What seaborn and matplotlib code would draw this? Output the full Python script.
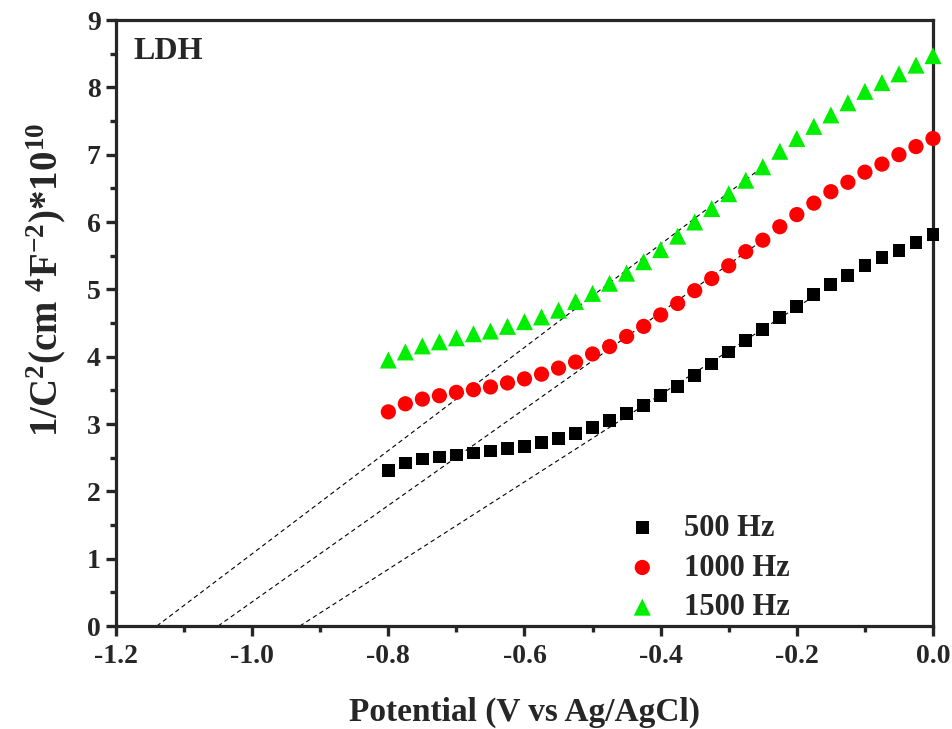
import numpy as np
import pandas as pd
import matplotlib
matplotlib.use("Agg")
import matplotlib.pyplot as plt
import seaborn as sns
from matplotlib.ticker import MultipleLocator

potential = [round(-0.8 + 0.025 * i, 3) for i in range(33)]

hz500 = [2.31, 2.42, 2.48, 2.51, 2.54, 2.57, 2.60, 2.64, 2.67, 2.72, 2.79, 2.86,
         2.95, 3.05, 3.16, 3.28, 3.42, 3.56, 3.72, 3.89, 4.07, 4.24, 4.40, 4.58,
         4.75, 4.92, 5.07, 5.21, 5.35, 5.47, 5.58, 5.69, 5.81]
hz1000 = [3.18, 3.30, 3.37, 3.42, 3.47, 3.51, 3.55, 3.61, 3.67, 3.74, 3.83, 3.92,
          4.04, 4.15, 4.30, 4.45, 4.62, 4.79, 4.98, 5.16, 5.35, 5.56, 5.73, 5.93,
          6.11, 6.28, 6.45, 6.59, 6.74, 6.86, 7.00, 7.12, 7.24]
hz1500 = [3.95, 4.07, 4.16, 4.22, 4.28, 4.34, 4.38, 4.45, 4.52, 4.59, 4.69, 4.82,
          4.94, 5.09, 5.24, 5.41, 5.59, 5.79, 6.00, 6.20, 6.42, 6.62, 6.82, 7.05,
          7.24, 7.42, 7.59, 7.77, 7.94, 8.07, 8.20, 8.33, 8.47]

labels = ["500 Hz", "1000 Hz", "1500 Hz"]
colors = ["#000000", "#ff0000", "#00ee00"]
markers = ["s", "o", "^"]

# Mott-Schottky tangent lines (x-intercept to end point)
fit_x = [[-0.93, -0.176], [-1.05, -0.25], [-1.14, -0.25]]
fit_y = [[0.0, 4.89], [0.0, 5.73], [0.0, 6.82]]

sns.set_theme(style="ticks")
plt.rcParams["font.family"] = ["Liberation Serif", "DejaVu Serif"]
plt.rcParams["font.weight"] = "bold"
plt.rcParams["mathtext.fontset"] = "custom"
plt.rcParams["mathtext.rm"] = "Liberation Serif:bold"
plt.rcParams["mathtext.bf"] = "Liberation Serif:bold"
plt.rcParams["mathtext.default"] = "bf"

fig = plt.figure(figsize=(9.53, 7.29), dpi=100)
ax = fig.add_axes([116 / 953, 1 - 626 / 729, (933 - 116) / 953, (626 - 20) / 729])

for fx, fy in zip(fit_x, fit_y):
    sns.lineplot(x=fx, y=fy, ax=ax, color="black", linestyle=(0, (4, 3)), linewidth=0.8)

sizes = [85, 120, 150]
for vals, lab, c, m, s in zip([hz500, hz1000, hz1500], labels, colors, markers, sizes):
    df = pd.DataFrame({"x": potential, "y": vals})
    sns.scatterplot(data=df, x="x", y="y", ax=ax, color=c, marker=m, s=s,
                    edgecolor="none", label=lab, zorder=3, clip_on=False)

ax.set_xlim(-1.2, 0.0)
ax.set_ylim(0, 9)
ax.xaxis.set_major_locator(MultipleLocator(0.2))
ax.xaxis.set_minor_locator(MultipleLocator(0.1))
ax.yaxis.set_major_locator(MultipleLocator(1))
ax.yaxis.set_minor_locator(MultipleLocator(0.5))
ax.set_xticklabels([f"{v:.1f}" for v in ax.get_xticks()])

for sp in ax.spines.values():
    sp.set_linewidth(2.3)
    sp.set_visible(True)
ax.tick_params(axis="both", which="major", direction="out", length=7, width=2.4,
               labelsize=20)
ax.tick_params(axis="x", which="major", pad=6)
ax.tick_params(axis="y", which="major", pad=4)
ax.tick_params(axis="both", which="minor", direction="out", length=4.5, width=2.4)
for t in ax.get_xticklabels() + ax.get_yticklabels():
    t.set_fontweight("bold")

ax.set_xlabel("Potential (V vs Ag/AgCl)", fontsize=24, fontweight="bold", labelpad=20)
ax.set_ylabel(r"1/C$^{2}$(cm $^{4}$F$^{-2}$)*10$^{10}$", fontsize=28,
              fontweight="bold")
ax.yaxis.set_label_coords(-0.059, (626 - 280) / 606)

ax.text(0.022, 0.972, "LDH", transform=ax.transAxes, fontsize=23,
        fontweight="bold", va="top", ha="left")

leg = ax.legend(loc="center left", bbox_to_anchor=((642 - 15) / 953, 1 - 568 / 729),
                bbox_transform=fig.transFigure, frameon=False,
                prop={"size": 22, "weight": "bold"}, handlelength=1.0,
                handletextpad=0.85, labelspacing=0.35, borderpad=0,
                borderaxespad=0, markerscale=1.0)

fig.savefig("out.png", dpi=100)
